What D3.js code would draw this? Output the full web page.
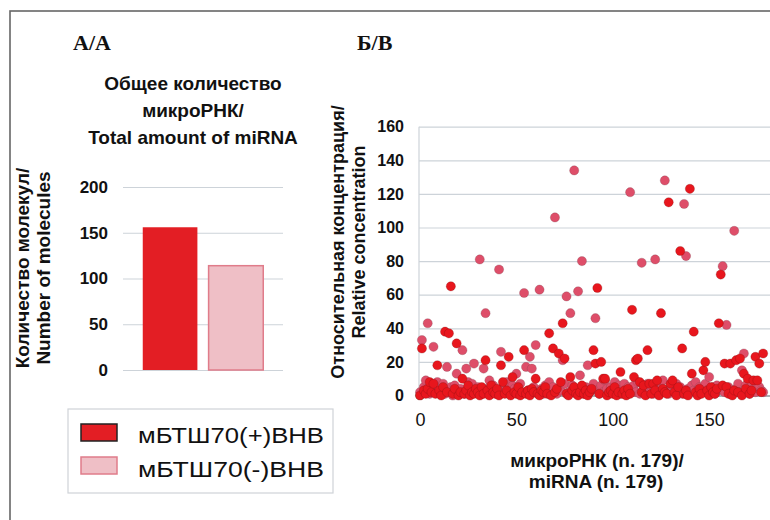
<!doctype html>
<html lang="ru">
<head>
<meta charset="UTF-8">
<title>микроРНК</title>
<script src="https://d3js.org/d3.v7.min.js"></script>
<style>
body { margin: 0; background-color: #ffffff; font-family: "Liberation Sans", Arial, sans-serif; }
svg { display: block; }
.grid line { stroke: #cdd3d9; stroke-width: 1.2; }
.grid path { display: none; }
.grid text { font-family: "Liberation Sans", Arial, sans-serif; font-weight: bold; fill: #111; }
.xaxis path, .xaxis line { display: none; }
.xaxis text { font-family: "Liberation Sans", Arial, sans-serif; font-size: 18px; fill: #111; }
.title { font-family: "Liberation Sans", Arial, sans-serif; font-weight: bold; font-size: 19px; fill: #111; }
.panel { font-family: "Liberation Serif", "Times New Roman", serif; font-weight: bold; font-size: 22px; fill: #111; }
</style>
</head>
<body>
<div id="plot"></div>
<script>

var width = 770;
var height = 520;

// panel A
var groups = ["мБТШ70(+)ВНВ", "мБТШ70(-)ВНВ"];
var totals = [156, 114];
var totalTicks = [0, 50, 100, 150, 200];

// panel B, one value per miRNA (index 0..178)
var plusValues = [
	0, 28, 3, 1, 4, 8, 2, 7, 1, 18,
	3, 0, 5, 38, 2, 37, 65, 1, 4, 31,
	0, 2, 10, 1, 3, 6, 0, 2, 1, 4,
	2, 0, 5, 1, 21, 3, 0, 6, 2, 1,
	4, 0, 18, 8, 1, 3, 23, 0, 11, 2,
	1, 5, 0, 2, 27, 1, 3, 0, 4, 2,
	10, 1, 0, 3, 2, 5, 1, 37, 0, 28,
	2, 4, 25, 8, 43, 22, 1, 0, 11, 3,
	5, 1, 0, 2, 6, 1, 3, 0, 2, 4,
	27, 19, 64, 1, 20, 10, 10, 0, 2, 3,
	1, 5, 0, 2, 14, 1, 3, 0, 4, 1,
	51, 11, 21, 22, 8, 2, 6, 0, 27, 7,
	1, 7, 3, 9, 0, 49, 4, 2, 1, 115,
	7, 9, 2, 0, 5, 86, 28, 1, 3, 0,
	123, 13, 38, 2, 0, 4, 1, 15, 20, 3,
	0, 5, 2, 1, 4, 43, 72, 6, 19, 5,
	1, 19, 0, 3, 21, 2, 22, 0, 13, 4,
	10, 1, 3, 9, 23, 9, 19, 2, 25
];
var minusValues = [
	2, 33, 5, 9, 43, 1, 6, 29, 3, 8,
	4, 2, 7, 1, 17, 3, 5, 0, 6, 13,
	2, 4, 27, 1, 16, 8, 3, 7, 19, 2,
	5, 81, 1, 16, 49, 4, 9, 2, 6, 3,
	1, 75, 26, 5, 2, 8, 3, 1, 6, 4,
	13, 2, 7, 1, 61, 17, 3, 23, 16, 5,
	30, 2, 63, 4, 1, 6, 3, 8, 2, 5,
	106, 1, 4, 3, 21, 7, 59, 2, 49, 6,
	134, 3, 62, 12, 80, 1, 5, 18, 2, 4,
	7, 46, 3, 1, 6, 2, 9, 4, 1, 5,
	3, 8, 2, 6, 1, 4, 7, 2, 5, 121,
	3, 6, 2, 8, 1, 79, 4, 2, 7, 3,
	5, 1, 81, 6, 2, 4, 9, 128, 3, 1,
	6, 4, 2, 7, 3, 5, 1, 114, 83, 4,
	2, 6, 3, 8, 1, 5, 2, 4, 7, 3,
	11, 2, 5, 1, 6, 3, 4, 77, 2, 42,
	5, 1, 3, 98, 4, 7, 2, 15, 25, 6,
	3, 1, 8, 4, 2, 6, 5, 3, 2
];
var concTicks = [0, 20, 40, 60, 80, 100, 120, 140, 160];
var mirnaTicks = [0, 50, 100, 150];

var fillColors = ["#e31e24", "#efbfc6"];
var strokeColors = ["#222222", "#e07c8a"];
var dotColors = { plus: "#e8161d", minus: "#de4e69" };

var svg = d3.select("#plot").append("svg")
	.attr("width", width)
	.attr("height", height);

// frame
svg.append("rect")
	.attr("x", 10).attr("y", 11)
	.attr("width", width + 20).attr("height", height + 20)
	.style("fill", "none").style("stroke", "#666").style("stroke-width", 1.6);

svg.append("text").attr("class", "panel").attr("x", 73).attr("y", 50).text("А/A");
svg.append("text").attr("class", "panel").attr("x", 357).attr("y", 50).text("Б/B");

// ---------- panel A ----------
var title = svg.append("text").attr("class", "title").attr("text-anchor", "middle");
["Общее количество", "микроРНК/", "Total amount of miRNA"].forEach(function (t, i) {
	title.append("tspan").attr("x", 193).attr("y", 90 + i * 27).text(t);
});

var xBand = d3.scaleBand().domain(groups).range([123, 283])
	.paddingInner(0.17).paddingOuter(0.3);
var yTotal = d3.scaleLinear().domain([0, 200]).range([370, 187]);

svg.append("g")
	.attr("class", "grid")
	.attr("transform", "translate(123,0)")
	.call(d3.axisLeft(yTotal).tickValues(totalTicks).tickSize(-160).tickPadding(15))
	.selectAll("text").style("font-size", "17px");

svg.selectAll("rect.bar")
	.data(totals)
	.enter().append("rect")
	.attr("class", "bar")
	.attr("x", function (d, i) { return xBand(groups[i]); })
	.attr("y", function (d) { return yTotal(d); })
	.attr("width", xBand.bandwidth())
	.attr("height", function (d) { return yTotal(0) - yTotal(d); })
	.style("fill", function (d, i) { return fillColors[i]; })
	.style("stroke", function (d, i) { return i == 1 ? strokeColors[1] : "none"; })
	.style("stroke-width", 1.5);

var yLab = svg.append("text").attr("class", "title")
	.attr("text-anchor", "middle")
	.attr("transform", "translate(0,268) rotate(-90)");
yLab.append("tspan").attr("x", 0).attr("y", 29).text("Количество молекул/");
yLab.append("tspan").attr("x", 0).attr("y", 50).text("Number of molecules");

// legend
svg.append("rect")
	.attr("x", 68).attr("y", 409).attr("width", 265).attr("height", 84)
	.style("fill", "#fff").style("stroke", "#cfd3d8").style("stroke-width", 1.2);

groups.forEach(function (g, i) {
	svg.append("rect")
		.attr("x", 81).attr("y", 424 + i * 33)
		.attr("width", 36).attr("height", 17)
		.style("fill", fillColors[i])
		.style("stroke", strokeColors[i])
		.style("stroke-width", 1.5);
	svg.append("text")
		.attr("x", 138).attr("y", 443 + i * 34)
		.attr("textLength", 186)
		.attr("lengthAdjust", "spacingAndGlyphs")
		.style("font-family", "'Liberation Sans', Arial, sans-serif")
		.style("font-size", "22px")
		.style("fill", "#111")
		.text(g);
});

// ---------- panel B ----------
var xIdx = d3.scaleLinear().domain([0, 180]).range([420, 767]);
var yConc = d3.scaleLinear().domain([0, 160]).range([395.5, 126.7]);

var gridB = svg.append("g")
	.attr("class", "grid")
	.attr("transform", "translate(419,0)")
	.call(d3.axisLeft(yConc).tickValues(concTicks).tickSize(-(width - 419)).tickPadding(15));
gridB.selectAll("text").style("font-size", "16px");
gridB.selectAll(".tick").filter(function (d) { return d == 0; })
	.select("line").style("stroke", "#8c9298").style("stroke-width", 1.4);

svg.append("line")
	.attr("x1", 419).attr("x2", 419)
	.attr("y1", yConc(160)).attr("y2", yConc(0))
	.style("stroke", "#cdd3d9").style("stroke-width", 1.2);

svg.append("g")
	.attr("class", "xaxis")
	.attr("transform", "translate(0," + yConc(0) + ")")
	.call(d3.axisBottom(xIdx).tickValues(mirnaTicks).tickSize(0).tickPadding(18));

svg.append("circle")
	.attr("cx", xIdx(0)).attr("cy", yConc(0)).attr("r", 4.5)
	.style("fill", "#2e6b2a");

svg.selectAll("circle.minus")
	.data(minusValues)
	.enter().append("circle")
	.attr("class", "minus")
	.attr("cx", function (d, i) { return xIdx(i); })
	.attr("cy", function (d) { return yConc(d); })
	.attr("r", 4.6)
	.style("fill", dotColors.minus)
	.style("stroke", "rgba(120,70,80,0.35)")
	.style("stroke-width", 0.8);

svg.selectAll("circle.plus")
	.data(plusValues)
	.enter().append("circle")
	.attr("class", "plus")
	.attr("cx", function (d, i) { return xIdx(i); })
	.attr("cy", function (d) { return yConc(d); })
	.attr("r", 4.6)
	.style("fill", dotColors.plus)
	.style("stroke", "rgba(120,20,20,0.35)")
	.style("stroke-width", 0.8);

var yLabB = svg.append("text").attr("class", "title")
	.style("font-size", "18px")
	.attr("text-anchor", "middle")
	.attr("transform", "translate(0,242) rotate(-90)");
yLabB.append("tspan").attr("x", 0).attr("y", 344).text("Относительная концентрация/");
yLabB.append("tspan").attr("x", 0).attr("y", 365).text("Relative concentration");

var xLab = svg.append("text").attr("class", "title").attr("text-anchor", "middle");
xLab.append("tspan").attr("x", 597).attr("y", 467).text("микроРНК (n. 179)/");
xLab.append("tspan").attr("x", 596).attr("y", 488).text("miRNA (n. 179)");

</script>
</body>
</html>
